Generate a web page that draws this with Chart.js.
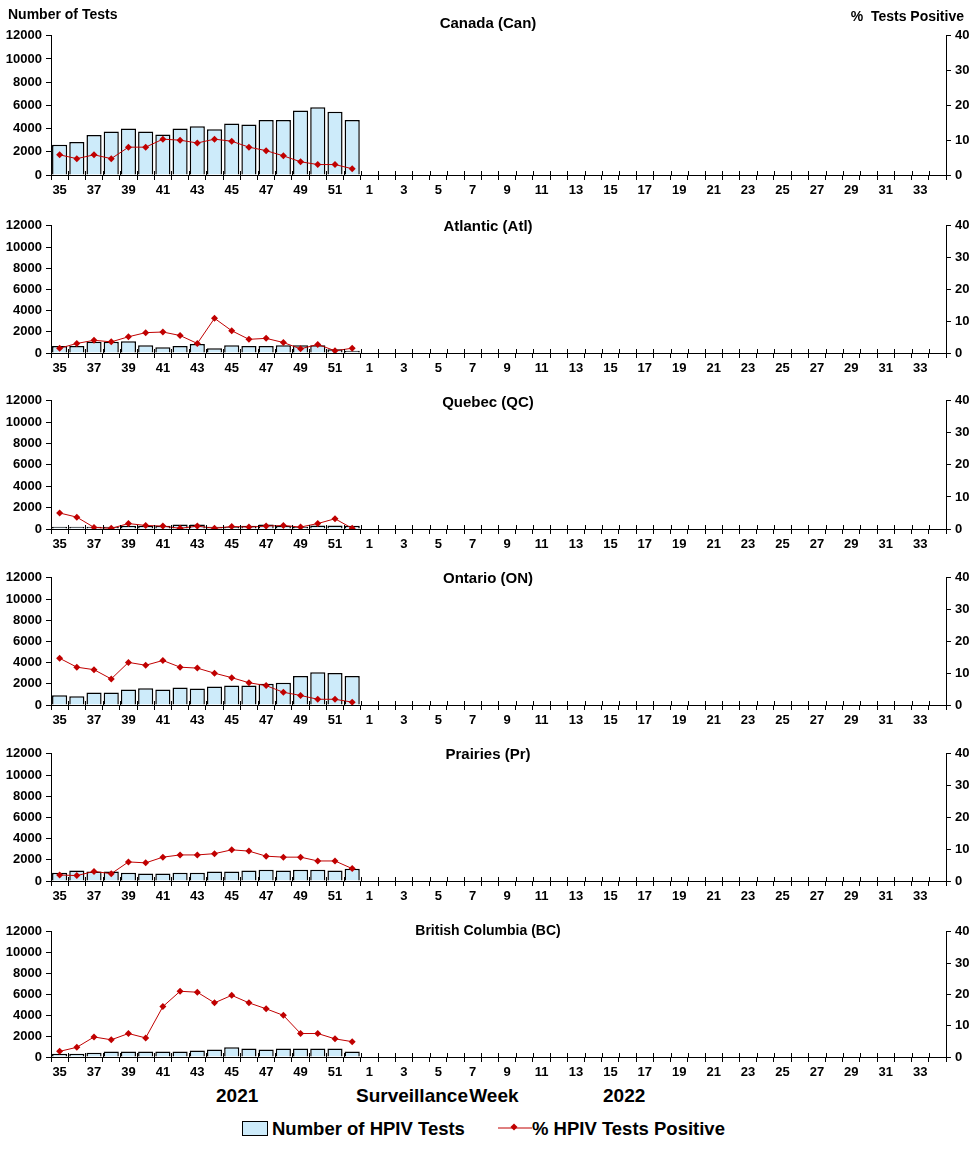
<!DOCTYPE html>
<html>
<head>
<meta charset="utf-8">
<script src="https://cdn.jsdelivr.net/npm/chart.js@4/dist/chart.umd.min.js"></script>
<style>
  body { margin: 0; background: #fff; font-family: "Liberation Sans", Arial, sans-serif; }
  #page { position: relative; width: 976px; height: 1152px; }
  .panel { position: absolute; left: 0; width: 976px; }
  .txt { position: absolute; font-weight: bold; color: #000; white-space: nowrap; }
  .title { font-size: 15px; transform: translateX(-50%); }
  .legend-box { display: inline-block; width: 24px; height: 13px; background: #CDEBFA; border: 1.5px solid #000; vertical-align: -1px; margin-right: 4px; }
</style>
</head>
<body>
<div id="page"></div>
<script>
// weeks 35-52 of 2021, then 1-34 of 2022
const weeks = ['35','36','37','38','39','40','41','42','43','44','45','46','47','48','49','50','51','52',
  '1','2','3','4','5','6','7','8','9','10','11','12','13','14','15','16','17',
  '18','19','20','21','22','23','24','25','26','27','28','29','30','31','32','33','34'];

// number of tests, weeks 35..52
const canTests = [2600,2850,3450,3750,4000,3750,3500,4000,4200,3950,4450,4350,4750,4750,5550,5850,5450,4750];
const atlTests = [670,650,1060,1060,1120,730,550,670,850,450,730,670,670,730,730,730,360,210];
const qcTests  = [210,210,210,200,300,300,300,420,420,210,210,300,420,300,210,330,330,300];
const onTests  = [910,820,1190,1190,1460,1580,1460,1640,1550,1740,1830,1830,2010,2100,2740,3100,3015,2740];
const prTests  = [790,980,885,885,790,700,700,790,790,885,885,980,1070,980,1070,1070,980,1160];
const bcTests  = [310,310,400,530,530,530,530,530,620,715,930,810,715,810,810,810,810,530];

// % tests positive, weeks 35..52
const canPct = [5.8,4.7,5.8,4.7,8.0,8.0,10.3,10.0,9.2,10.3,9.7,8.0,7.0,5.5,3.8,3.0,3.0,1.8];
const atlPct = [1.5,3.0,4.0,3.5,5.1,6.4,6.6,5.5,3.0,10.9,7.0,4.3,4.6,3.3,1.3,2.7,0.7,1.5];
const qcPct  = [5.0,3.7,0.5,0.2,1.7,1.1,0.9,0.2,0.9,0.2,0.8,0.6,0.9,1.1,0.6,1.7,3.2,0.2];
const onPct  = [14.7,11.9,11.1,8.2,13.4,12.5,14.0,11.9,11.6,10.0,8.6,7.0,6.1,4.0,3.0,1.8,1.8,0.9];
const prPct  = [1.9,1.7,3.0,2.3,6.0,5.7,7.5,8.2,8.2,8.6,9.8,9.4,7.8,7.5,7.5,6.3,6.3,3.9];
const bcPct  = [1.8,3.1,6.4,5.5,7.5,6.1,16.1,21.0,20.7,17.3,19.7,17.3,15.4,13.3,7.5,7.5,5.8,4.9];

const leftTicks = [0,2000,4000,6000,8000,10000,12000];
const rightTicks = [0,10,20,30,40];

const regions = [
  { name: 'Canada (Can)',          tests: canTests, pct: canPct, top: 32,  h: 143, titleY: 14 },
  { name: 'Atlantic (Atl)',        tests: atlTests, pct: atlPct, top: 222, h: 131, titleY: 217 },
  { name: 'Quebec (QC)',           tests: qcTests,  pct: qcPct,  top: 397, h: 132, titleY: 393 },
  { name: 'Ontario (ON)',          tests: onTests,  pct: onPct,  top: 574, h: 131, titleY: 569 },
  { name: 'Prairies (Pr)',         tests: prTests,  pct: prPct,  top: 750, h: 131, titleY: 745 },
  { name: 'British Columbia (BC)', tests: bcTests,  pct: bcPct,  top: 928, h: 129, titleY: 922 }
];

const PAD_TOP = 8, X_AXIS_H = 28, LEFT_W = 51, RIGHT_W = 30;
const font = { family: '"Liberation Sans", Arial, sans-serif', size: 13, weight: 'bold' };

function pad(arr) {
  return weeks.map((w, i) => (i < arr.length ? arr[i] : null));
}

// small tick marks above the x axis (Excel style crosses)
const crossTicks = {
  id: 'crossTicks',
  afterDraw(chart) {
    const x = chart.scales.x, ctx = chart.ctx, b = chart.chartArea.bottom;
    const step = x.width / weeks.length;
    ctx.save();
    ctx.strokeStyle = '#000';
    ctx.lineWidth = 1;
    ctx.beginPath();
    for (let i = 0; i <= weeks.length; i++) {
      const px = Math.round(x.left + i * step) + 0.5;
      ctx.moveTo(px, b - 4);
      ctx.lineTo(px, b);
    }
    ctx.stroke();
    ctx.restore();
  }
};

const page = document.getElementById('page');

regions.forEach(function (r) {
  const div = document.createElement('div');
  div.className = 'panel';
  div.style.top = (r.top - PAD_TOP) + 'px';
  div.style.height = (r.h + PAD_TOP + X_AXIS_H) + 'px';
  const cv = document.createElement('canvas');
  div.appendChild(cv);
  page.appendChild(div);

  new Chart(cv.getContext('2d'), {
    data: {
      labels: weeks,
      datasets: [
        {
          type: 'line',
          label: '% HPIV Tests Positive',
          data: pad(r.pct),
          yAxisID: 'y1',
          borderColor: '#C00000',
          backgroundColor: '#C00000',
          borderWidth: 1,
          pointStyle: 'rectRot',
          pointRadius: 3.5,
          pointBorderWidth: 0,
          spanGaps: false,
          order: 0
        },
        {
          type: 'bar',
          label: 'Number of HPIV Tests',
          data: pad(r.tests),
          yAxisID: 'y',
          backgroundColor: '#CDEBFA',
          borderColor: '#000',
          borderWidth: 1.5,
          categoryPercentage: 0.88,
          barPercentage: 1.0,
          order: 1
        }
      ]
    },
    options: {
      responsive: true,
      maintainAspectRatio: false,
      animation: false,
      layout: { padding: { top: PAD_TOP, left: 0, right: 0, bottom: 0 } },
      plugins: { legend: { display: false }, tooltip: { enabled: false } },
      scales: {
        x: {
          offset: true,
          grid: { offset: true, drawOnChartArea: false, tickLength: 5, color: '#000' },
          border: { display: true, color: '#000', width: 1 },
          ticks: {
            autoSkip: false, maxRotation: 0, padding: 3, color: '#000', font: font,
            callback: function (v, i) { return i % 2 === 0 ? weeks[i] : ''; }
          },
          afterFit: function (s) { s.height = X_AXIS_H; }
        },
        y: {
          position: 'left',
          min: 0, max: 12000,
          afterBuildTicks: function (s) { s.ticks = leftTicks.map(v => ({ value: v })); },
          grid: { drawOnChartArea: false, tickLength: 5, color: '#000' },
          border: { display: true, color: '#000', width: 1 },
          ticks: { color: '#000', font: font, padding: 4, callback: v => String(v) },
          afterFit: function (s) { s.width = LEFT_W; }
        },
        y1: {
          position: 'right',
          min: 0, max: 40,
          afterBuildTicks: function (s) { s.ticks = rightTicks.map(v => ({ value: v })); },
          grid: { drawOnChartArea: false, tickLength: 5, color: '#000' },
          border: { display: true, color: '#000', width: 1 },
          ticks: { color: '#000', font: font, padding: 4, callback: v => String(v) },
          afterFit: function (s) { s.width = RIGHT_W; }
        }
      }
    },
    plugins: [crossTicks]
  });

  const t = document.createElement('div');
  t.className = 'txt title';
  t.style.left = '488px';
  t.style.top = r.titleY + 'px';
  if (r.name.length > 15) t.style.fontSize = '14px';
  t.textContent = r.name;
  page.appendChild(t);
});

function addText(txt, left, top, size, extra) {
  const d = document.createElement('div');
  d.className = 'txt';
  d.style.left = left + 'px';
  d.style.top = top + 'px';
  d.style.fontSize = size + 'px';
  if (extra) Object.assign(d.style, extra);
  d.innerHTML = txt;
  page.appendChild(d);
  return d;
}

addText('Number of Tests', 8, 6, 14);
addText('%&nbsp; Tests Positive', 0, 8, 14, { left: 'auto', right: '12px' });
addText('2021', 216, 1085, 19);
addText('Surveillance Week', 356, 1085, 19, { wordSpacing: '-4px' });
addText('2022', 603, 1085, 19);
addText('<span class="legend-box"></span>Number of HPIV Tests', 242, 1118, 18.5);
addText('<svg width="34" height="12" style="vertical-align:1px"><line x1="0" y1="6" x2="34" y2="6" stroke="#C00000" stroke-width="1"/><rect x="13.5" y="2.5" width="5" height="5" fill="#C00000" transform="rotate(45 16 5)"/></svg>% HPIV Tests Positive', 498, 1118, 18.5);
</script>
</body>
</html>
